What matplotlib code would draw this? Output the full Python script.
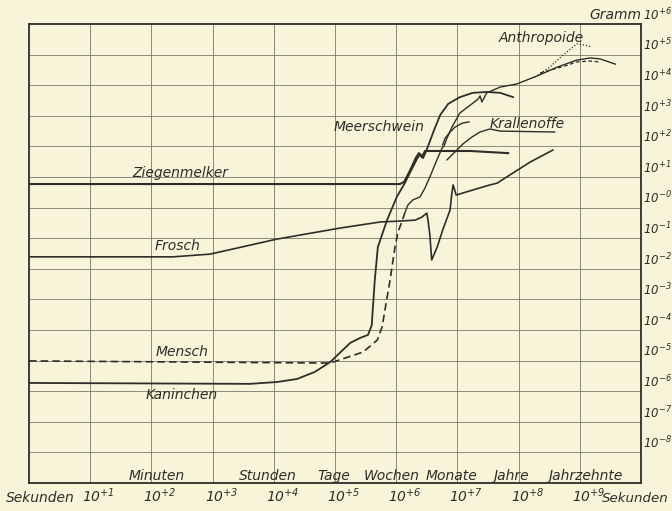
import numpy as np
import matplotlib
matplotlib.use("Agg")
import matplotlib.pyplot as plt
from matplotlib.ticker import FixedLocator, NullLocator
from matplotlib.transforms import offset_copy

plt.rcParams["mathtext.fontset"] = "custom"
plt.rcParams["mathtext.rm"] = "DejaVu Sans:italic"
plt.rcParams["mathtext.it"] = "DejaVu Sans:italic"
plt.rcParams["mathtext.default"] = "rm"

# ---------------- data (log10 seconds, log10 gram) ----------------
ziegen_x = [0, 5.98, 6.06, 6.13, 6.23, 6.32, 6.37, 6.42, 6.47, 6.72, 7.21, 7.83]
ziegen_y = [0.77, 0.77, 0.77, 0.84, 1.23, 1.62, 1.78, 1.65, 1.85, 1.85, 1.85, 1.78]

frosch_x = [0, 2.35, 2.96, 4.05, 5.08, 5.74, 6.06, 6.31, 6.42, 6.50, 6.52, 6.55, 6.58,
            6.67, 6.76, 6.88, 6.91, 6.93, 6.98, 7.21, 7.53, 7.65, 7.86, 8.19, 8.56]
frosch_y = [-1.61, -1.61, -1.52, -1.03, -0.67, -0.47, -0.44, -0.41, -0.31, -0.18, -0.41,
            -0.90, -1.71, -1.29, -0.73, -0.08, 0.48, 0.74, 0.41, 0.55, 0.74, 0.80, 1.07, 1.49, 1.88]

mensch_dash_x = [0, 2.79, 4.92, 5.16, 5.46, 5.69, 5.77, 5.83, 5.90, 5.98, 6.03, 6.09, 6.14]
mensch_dash_y = [-5.01, -5.05, -5.08, -4.92, -4.72, -4.33, -3.90, -3.18, -2.37, -1.29, -0.80, -0.47, -0.18]

mensch_x = [6.14, 6.19, 6.27, 6.39, 6.47, 6.55, 6.63, 6.70, 6.75, 6.78, 6.83, 6.91, 7.04,
            7.21, 7.34, 7.37, 7.40, 7.48, 7.70, 7.97, 8.30, 8.63, 8.95, 9.17, 9.33, 9.58]
mensch_y = [-0.18, 0.08, 0.25, 0.35, 0.64, 1.00, 1.39, 1.72, 1.95, 2.01, 2.27, 2.63, 3.09,
            3.35, 3.55, 3.65, 3.45, 3.75, 3.94, 4.04, 4.30, 4.59, 4.82, 4.89, 4.86, 4.69]

kanin_x = [0, 3.61, 4.05, 4.38, 4.67, 4.92, 5.25, 5.41, 5.54, 5.60, 5.65, 5.70, 5.85, 6.01,
           6.14, 6.24, 6.34, 6.39, 6.44, 6.49, 6.54, 6.62, 6.72, 6.85, 7.04, 7.25, 7.48, 7.70, 7.91]
kanin_y = [-5.73, -5.76, -5.70, -5.60, -5.37, -5.05, -4.42, -4.26, -4.16, -3.84, -2.37, -1.29,
           -0.41, 0.35, 0.80, 1.20, 1.59, 1.75, 1.62, 1.85, 2.11, 2.54, 3.03, 3.39, 3.61, 3.75,
           3.78, 3.75, 3.61]

kralle_x = [6.83, 6.96, 7.09, 7.24, 7.37, 7.53, 7.70, 8.59]
kralle_y = [1.56, 1.82, 2.08, 2.31, 2.47, 2.57, 2.50, 2.47]

meer_x = [6.76, 6.80, 6.88, 6.96, 7.08, 7.19]
meer_y = [2.05, 2.27, 2.47, 2.63, 2.76, 2.80]

anthro_dash_x = [8.35, 8.51, 8.76, 8.95, 9.17, 9.33]
anthro_dash_y = [4.40, 4.49, 4.63, 4.76, 4.79, 4.76]

anthro_dot_x = [8.27, 8.51, 8.73, 8.95, 9.08, 9.20]
anthro_dot_y = [4.27, 4.59, 4.99, 5.35, 5.31, 5.25]

x_exponents = list(range(1, 10))
x_tick_labels = [r"$10^{+%d}$" % e for e in x_exponents]
y_exponents = list(range(-8, 7))
y_tick_labels = [r"$10^{\!-\!8}$", r"$10^{\!-\!7}$", r"$10^{\!-\!6}$", r"$10^{\!-\!5}$",
                 r"$10^{\!-\!4}$", r"$10^{\!-\!3}$", r"$10^{\!-\!2}$", r"$10^{\!-\!1}$",
                 r"$10^{\!-\!0}$", r"$10^{\!+\!1}$", r"$10^{\!+\!2}$", r"$10^{\!+\!3}$",
                 r"$10^{\!+\!4}$", r"$10^{\!+\!5}$", r"$10^{\!+\!6}$"]

period_names = ["Minuten", "Stunden", "Tage", "Wochen", "Monate", "Jahre", "Jahrzehnte"]
period_pos = [2.09, 3.91, 4.98, 5.92, 6.91, 7.88, 9.10]

# ---------------- style ----------------
bg = "#F8F4D9"
ink = "#2E2E28"
gridc = "#7A7A6A"
fam = "DejaVu Sans"

fig = plt.figure(figsize=(6.72, 5.11), dpi=100)
fig.patch.set_facecolor(bg)
ax = fig.add_axes([29 / 672, 1 - 483 / 511, 612 / 672, 459 / 511])
ax.set_facecolor(bg)
ax.set_xscale("log")
ax.set_yscale("log")
ax.set_xlim(1, 1e10)
ax.set_ylim(1e-9, 1e6)
ax.xaxis.set_major_locator(FixedLocator(10.0 ** np.arange(1, 10)))
ax.yaxis.set_major_locator(FixedLocator(10.0 ** np.arange(-8, 6)))
ax.xaxis.set_minor_locator(NullLocator())
ax.yaxis.set_minor_locator(NullLocator())
ax.tick_params(length=0, labelbottom=False, labelleft=False)
ax.grid(True, color=gridc, lw=0.6)
for s in ax.spines.values():
    s.set_color(ink)
    s.set_linewidth(1.3)

def P(x, y):
    return 10.0 ** np.asarray(x), 10.0 ** np.asarray(y)

ax.plot(*P(ziegen_x, ziegen_y), color=ink, lw=1.5)
ax.plot(*P(frosch_x, frosch_y), color=ink, lw=1.2)
ax.plot(*P(mensch_dash_x, mensch_dash_y), color=ink, lw=1.2, ls=(0, (4.5, 2.5)))
ax.plot(*P(mensch_x, mensch_y), color=ink, lw=1.0)
ax.plot(*P(kanin_x, kanin_y), color=ink, lw=1.3)
ax.plot(*P(kralle_x, kralle_y), color=ink, lw=1.0)
ax.plot(*P(meer_x, meer_y), color=ink, lw=1.0)
ax.plot(*P(anthro_dash_x, anthro_dash_y), color=ink, lw=0.9, ls=(0, (3, 2)))
ax.plot(*P(anthro_dot_x, anthro_dot_y), color=ink, lw=0.9, ls=(0, (1, 1.5)))

tk = dict(color=ink, family=fam, style="italic")

# curve labels
labels = [("Ziegenmelker", 2.47, 1.13, "center"),
          ("Frosch", 2.43, -1.25, "center"),
          ("Mensch", 2.50, -4.72, "center"),
          ("Kaninchen", 2.50, -6.12, "center"),
          ("Meerschwein", 6.47, 2.63, "right"),
          ("Krallenoffe", 8.14, 2.73, "center"),
          ("Anthropoide", 8.37, 5.54, "center")]
for t, x, y, ha in labels:
    ax.text(10 ** x, 10 ** y, t, ha=ha, va="center", fontsize=10, **tk)

# period labels inside bottom row
for t, x in zip(period_names, period_pos):
    ax.text(10 ** x, 10 ** -8.77, t, ha="center", va="center", fontsize=10, **tk)

# right axis labels
tr = offset_copy(ax.get_yaxis_transform(), fig=fig, x=2, y=1, units="dots")
for e, lab in zip(y_exponents, y_tick_labels):
    ax.text(1.0, 10.0 ** e, lab, transform=tr, ha="left", va="bottom",
            fontsize=8.5, clip_on=False, **tk)

# bottom axis labels
tb = offset_copy(ax.get_xaxis_transform(), fig=fig, x=-8, y=-22, units="dots")
for e, lab in zip(x_exponents, x_tick_labels):
    ax.text(10.0 ** e, 0.0, lab, transform=tb, ha="left", va="bottom",
            fontsize=10, clip_on=False, **tk)

fig.text(40 / 672, 1 - 498 / 511, "Sekunden", ha="center", va="center", fontsize=10, **tk)
fig.text(602 / 672, 1 - 498 / 511, "Sekunden", ha="left", va="center", fontsize=9.6, **tk)
fig.text(615 / 672, 1 - 15 / 511, "Gramm", ha="center", va="center", fontsize=10, **tk)

fig.savefig("out.png", dpi=100, facecolor=bg)
